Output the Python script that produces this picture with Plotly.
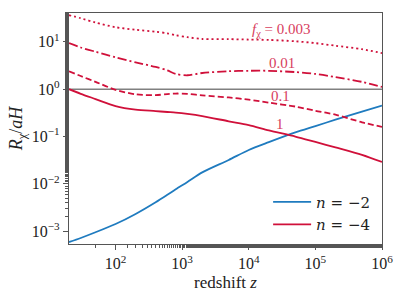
import numpy as np
import plotly.graph_objects as go

z = [20, 30, 50, 100, 200, 400, 600, 800, 1200, 2000, 5000, 1e4, 2e4, 5e4, 1e5, 2e5, 5e5, 1e6]

blue_n2 = [5.9e-4, 7.2e-4, 9.5e-4, 1.42e-3, 2.32e-3, 4.1e-3, 5.9e-3, 7.7e-3, 1.1e-2, 1.75e-2, 3.2e-2, 5.2e-2, 7.6e-2, 0.122, 0.166, 0.227, 0.336, 0.45]
red_f1 = [1.0, 0.8, 0.62, 0.44, 0.37, 0.345, 0.33, 0.32, 0.30, 0.27, 0.21, 0.175, 0.135, 0.10, 0.077, 0.059, 0.041, 0.029]
red_f01 = [2.4, 1.9, 1.43, 0.97, 0.78, 0.75, 0.79, 0.81, 0.8, 0.74, 0.67, 0.6, 0.52, 0.43, 0.35, 0.29, 0.2, 0.16]
red_f001 = [9.4, 7.6, 6.2, 4.7, 3.7, 2.95, 2.5, 2.1, 1.97, 2.2, 2.4, 2.45, 2.45, 2.3, 2.1, 1.8, 1.43, 1.12]
red_f0003 = [36.6, 31.6, 25.6, 20.4, 18.0, 16.4, 15.2, 13.8, 12.6, 11.5, 11.4, 11.2, 11.0, 10.3, 9.4, 8.3, 7.0, 5.8]

label_texts = ["<i>f</i><sub>χ</sub> = 0.003", "0.01", "0.1", "1"]
label_z = [3.1e4, 3.1e4, 2.95e4, 2.95e4]
label_y = [17.4, 3.5, 0.735, 0.18]

x_tickvals = [1e2, 1e3, 1e4, 1e5, 1e6]
x_ticktext = ["10<sup>2</sup>", "10<sup>3</sup>", "10<sup>4</sup>", "10<sup>5</sup>", "10<sup>6</sup>"]
y_tickvals = [1e-3, 1e-2, 1e-1, 1e0, 1e1]
y_ticktext = ["10<sup>−3</sup>", "10<sup>−2</sup>", "10<sup>−1</sup>", "10<sup>0</sup>", "10<sup>1</sup>"]

BLUE = "#1f7bbf"
RED = "#d0103a"
FONT = "Liberation Serif"

fig = go.Figure()

fig.add_trace(go.Scatter(x=[20, 1e6], y=[1, 1], mode="lines",
                         line=dict(color="#808080", width=1.6), showlegend=False, hoverinfo="skip"))

fig.add_trace(go.Scatter(x=z, y=blue_n2, mode="lines", line=dict(color=BLUE, width=1.8, shape="spline", smoothing=0.8),
                         name="<i>n</i> = −2"))
fig.add_trace(go.Scatter(x=z, y=red_f1, mode="lines", line=dict(color=RED, width=1.8, shape="spline", smoothing=0.8),
                         name="<i>n</i> = −4"))
fig.add_trace(go.Scatter(x=z, y=red_f01, mode="lines", line=dict(color=RED, width=1.8, shape="spline", smoothing=0.8, dash="6px,3px"),
                         showlegend=False))
fig.add_trace(go.Scatter(x=z, y=red_f001, mode="lines", line=dict(color=RED, width=1.8, shape="spline", smoothing=0.8, dash="9px,3px,2px,3px"),
                         showlegend=False))
fig.add_trace(go.Scatter(x=z, y=red_f0003, mode="lines", line=dict(color=RED, width=1.8, shape="spline", smoothing=0.8, dash="2px,3px"),
                         showlegend=False))

for t, lx, ly in zip(label_texts, label_z, label_y):
    fig.add_annotation(x=np.log10(lx), y=np.log10(ly), xref="x", yref="y", text=t, showarrow=False,
                       font=dict(family=FONT, size=15, color="#d8405e"))

axis_common = dict(
    type="log", showline=True, linecolor="#555", linewidth=1.2, mirror=True,
    ticks="outside", ticklen=5, tickwidth=1, tickcolor="#555",
    showgrid=False, zeroline=False, automargin=False,
    minor=dict(ticks="outside", ticklen=3, tickwidth=0.8, tickcolor="#555", showgrid=False),
    tickfont=dict(family=FONT, size=16, color="#222"),
)

fig.update_xaxes(range=[1.301, 6], tickvals=x_tickvals, ticktext=x_ticktext,
                 title=dict(text="redshift <i>z</i>", font=dict(family=FONT, size=17, color="#222"), standoff=4),
                 **axis_common)
fig.update_yaxes(range=[-3.27, 1.61], tickvals=y_tickvals, ticktext=y_ticktext,
                 title=dict(text="<i>R</i><sub>χ</sub>/<i>aH</i>", font=dict(family=FONT, size=18, color="#222"), standoff=4),
                 **axis_common)

fig.update_layout(
    width=399, height=297,
    margin=dict(l=69, r=17, t=13, b=53),
    plot_bgcolor="white", paper_bgcolor="white",
    legend=dict(x=0.978, y=0.015, xanchor="right", yanchor="bottom",
                font=dict(family="DejaVu Serif", size=15, color="#222"),
                bgcolor="rgba(0,0,0,0)", itemwidth=38),
)

fig.write_html("out.html", config={"displayModeBar": False},
               post_script="document.body.style.margin='0';document.body.style.overflow='hidden';")
